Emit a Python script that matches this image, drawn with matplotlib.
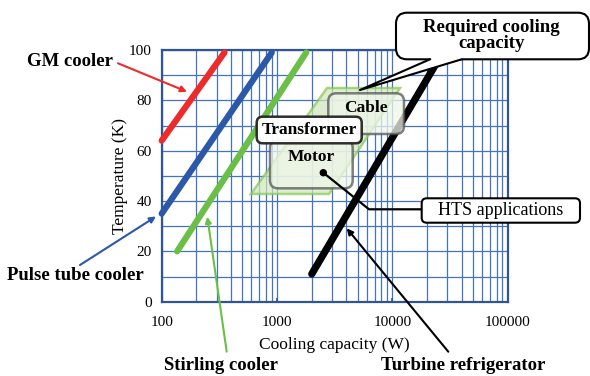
import matplotlib
matplotlib.use("Agg")
import matplotlib.pyplot as plt
from matplotlib.transforms import Affine2D
from matplotlib.patches import FancyBboxPatch, Polygon, FancyArrowPatch, Circle
from matplotlib.lines import Line2D
from matplotlib.ticker import LogLocator, NullFormatter, FixedLocator

# ---------------- data ----------------
gm_cap = [100, 350]
gm_temp = [64, 99]
pt_cap = [100, 900]
pt_temp = [35, 99]
st_cap = [136, 1790]
st_temp = [20, 99]
tb_cap = [2000, 25000]
tb_temp = [11, 96]

# required cooling capacity region (capacity W, temperature K)
region_cap = [594, 2822, 11650, 2714]
region_temp = [42.8, 42.8, 84.9, 84.9]

x_ticks = [100, 1000, 10000, 100000]
x_tick_labels = ["100", "1000", "10000", "100000"]
y_ticks = [0, 20, 40, 60, 80, 100]

W, H = 590, 376
SERIF = ["Liberation Serif", "DejaVu Serif"]
plt.rcParams['font.family'] = SERIF

fig = plt.figure(figsize=(W / 100, H / 100), dpi=100)
ax = fig.add_axes([161.7 / W, 1 - 301.7 / H, 346 / W, 251.7 / H])
pix = Affine2D().scale(1 / W, -1 / H).translate(0, 1) + fig.transFigure

grid_c = "#4472C4"
frame_c = "#2F5597"

ax.set_xscale("log")
ax.set_xlim(100, 100000)
ax.set_ylim(0, 100)
ax.xaxis.set_major_locator(FixedLocator(x_ticks))
ax.set_xticklabels(x_tick_labels)
ax.xaxis.set_minor_locator(LogLocator(base=10, subs=range(2, 10)))
ax.xaxis.set_minor_formatter(NullFormatter())
ax.yaxis.set_major_locator(FixedLocator(y_ticks))
ax.yaxis.set_minor_locator(FixedLocator([10, 30, 50, 70, 90]))
ax.grid(True, which="both", color=grid_c, lw=0.9)
ax.set_axisbelow(True)
for s in ax.spines.values():
    s.set_color(frame_c)
    s.set_linewidth(1.6)
ax.tick_params(axis="x", which="major", direction="in", length=3, width=1.2,
               color=frame_c, labelsize=11, pad=10)
ax.tick_params(axis="x", which="minor", length=0)
ax.tick_params(axis="y", which="both", length=0, labelsize=11, pad=7)
ax.set_xlabel("Cooling capacity (W)", fontsize=12.5, labelpad=6)
ax.set_ylabel("Temperature (K)", fontsize=12.5, labelpad=1)

# cooler lines
ax.plot(gm_cap, gm_temp, color="#EE2B2B", lw=4.5, solid_capstyle="round", zorder=3, clip_on=False)
ax.plot(pt_cap, pt_temp, color="#2B58A8", lw=4.5, solid_capstyle="round", zorder=3, clip_on=False)
ax.plot(st_cap, st_temp, color="#6CBF46", lw=4.5, solid_capstyle="round", zorder=3, clip_on=False)
ax.plot(tb_cap, tb_temp, color="black", lw=5.2, solid_capstyle="round", zorder=3, clip_on=False)

# region parallelogram
ax.add_patch(Polygon(list(zip(region_cap, region_temp)), closed=True,
                     facecolor="#CFE8BC", edgecolor="#86C750", lw=1.8,
                     alpha=0.7, zorder=4))

def rbox(x0, y0, x1, y1, ec, fc, lw, alpha=1.0, z=6, r=8):
    p = FancyBboxPatch((x0, y0), x1 - x0, y1 - y0,
                       boxstyle=f"round,pad=0,rounding_size={r}",
                       transform=pix, facecolor=fc, edgecolor=ec, lw=lw,
                       alpha=alpha, zorder=z)
    fig.add_artist(p)
    return p

# Motor, Cable, Transformer boxes
rbox(270, 140, 352.7, 188.3, "#555555", "#F0F6EA", 1.8, alpha=0.75, z=6)
rbox(328.3, 93.3, 404, 134, "#555555", "#F0F6EA", 1.8, alpha=0.75, z=7)
rbox(256.7, 116.7, 361.7, 143.3, "#222222", "white", 1.8, alpha=0.95, z=8, r=6)
fig.text(366, 108, "Cable", transform=pix, ha="center", va="center",
         fontsize=12.5, fontweight="bold", zorder=9)
fig.text(309, 130.5, "Transformer", transform=pix, ha="center", va="center",
         fontsize=12.5, fontweight="bold", zorder=9)
fig.text(311.5, 157, "Motor", transform=pix, ha="center", va="center",
         fontsize=12.5, fontweight="bold", zorder=9)

# HTS applications connector + box
fig.add_artist(Line2D([323.3, 369, 421.7], [172.7, 209.3, 209.3], transform=pix,
                      color="black", lw=1.6, zorder=9))
fig.add_artist(Circle((323.3, 172.7), 3, transform=pix, color="black", zorder=9))
rbox(421.7, 198.3, 580, 222.7, "black", "white", 1.5, z=9, r=5)
fig.text(500.8, 210.5, "HTS applications", transform=pix, ha="center", va="center",
         fontsize=13, zorder=10)

# Required cooling capacity callout
rbox(396, 12.7, 589, 59.3, "black", "white", 1.5, z=10, r=11)
fig.add_artist(Polygon([(430, 57.5), (462, 57.5), (461.7, 59.3), (360, 90), (430, 59.3)],
                       closed=True, transform=pix, facecolor="white", edgecolor="none", zorder=11))
fig.add_artist(Line2D([430, 360, 461.7], [59.3, 90, 59.3], transform=pix,
                      color="black", lw=1.5, zorder=12))
fig.text(491.5, 35.5, "Required cooling\ncapacity", transform=pix, ha="center", va="center",
         fontsize=13.5, fontweight="bold", linespacing=0.95, zorder=12)

# labels with arrows
def label(x, y, s, ha="center"):
    fig.text(x, y, s, transform=pix, ha=ha, va="center", fontsize=13.5,
             fontweight="bold", zorder=12)

def arrow(p0, p1, color, lw=1.5):
    a = FancyArrowPatch(p0, p1, transform=pix, arrowstyle="-|>", mutation_scale=9,
                        color=color, lw=lw, shrinkA=0, shrinkB=0, zorder=12)
    fig.add_artist(a)

label(70, 61, "GM cooler")
arrow((118, 63.3), (187, 91.7), "#EE2B2B")
label(75.5, 276, "Pulse tube cooler")
arrow((80, 265), (156, 216.5), "#2B58A8")
label(220.5, 365, "Stirling cooler")
arrow((226.7, 351.7), (207.3, 216.7), "#6CBF46")
label(463.5, 365, "Turbine refrigerator")
arrow((448.3, 351.7), (346.7, 228.3), "black")

fig.savefig("out.png", dpi=100)
